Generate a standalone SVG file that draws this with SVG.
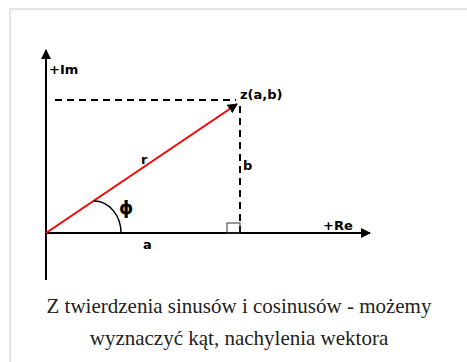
<svg xmlns="http://www.w3.org/2000/svg" width="467" height="362" viewBox="0 0 467 362">
<defs>
<style>
.ax{stroke:#000;stroke-width:2;fill:none}
.dash{stroke:#000;stroke-width:2;stroke-dasharray:7,5;fill:none}
.lbl{font-family:"DejaVu Sans",sans-serif;font-weight:bold;font-size:13px;fill:#000}
.cap{font-family:"Liberation Serif",serif;font-size:21px;fill:#222;text-anchor:middle}
</style>
<marker id="ah" viewBox="0 0 10 10" refX="9" refY="5" markerWidth="5" markerHeight="5" orient="auto" markerUnits="strokeWidth">
<path d="M0,0 L10,5 L0,10 z" fill="#000"/>
</marker>
</defs>
<rect x="0" y="0" width="467" height="362" fill="#fff"/>
<rect x="10" y="9" width="470" height="370" fill="#fff" stroke="#ddd" stroke-width="1.5"/>
<g id="connectors">
<line class="ax" x1="46" y1="280" x2="46" y2="50" marker-end="url(#ah)"/>
<line class="ax" x1="46" y1="233" x2="370" y2="233" marker-end="url(#ah)"/>
<line class="dash" x1="55" y1="100" x2="236" y2="100"/>
<line class="dash" x1="240" y1="106" x2="240" y2="233"/>
<rect x="227" y="223" width="13" height="10" fill="none" stroke="#333" stroke-width="1"/>
<line x1="46" y1="233" x2="237" y2="104" stroke="#f00" stroke-width="2" marker-end="url(#ah)"/>
<path d="M94,201 A27 32 0 0 1 121 233" fill="none" stroke="#000" stroke-width="1.5"/>
</g>
<g id="labels">
<text class="lbl" x="49" y="74">+Im</text>
<text class="lbl" x="240" y="99">z(a,b)</text>
<text class="lbl" x="141" y="164">r</text>
<text class="lbl" x="243" y="170">b</text>
<text class="lbl" x="119" y="214" style="font-size:18px">ϕ</text>
<text class="lbl" x="323" y="230">+Re</text>
<text class="lbl" x="143" y="249">a</text>
</g>
<g id="caption">
<text class="cap" x="239" y="313">Z twierdzenia sinusów i cosinusów - możemy</text>
<text class="cap" x="239" y="345">wyznaczyć kąt, nachylenia wektora</text>
</g>
</svg>
